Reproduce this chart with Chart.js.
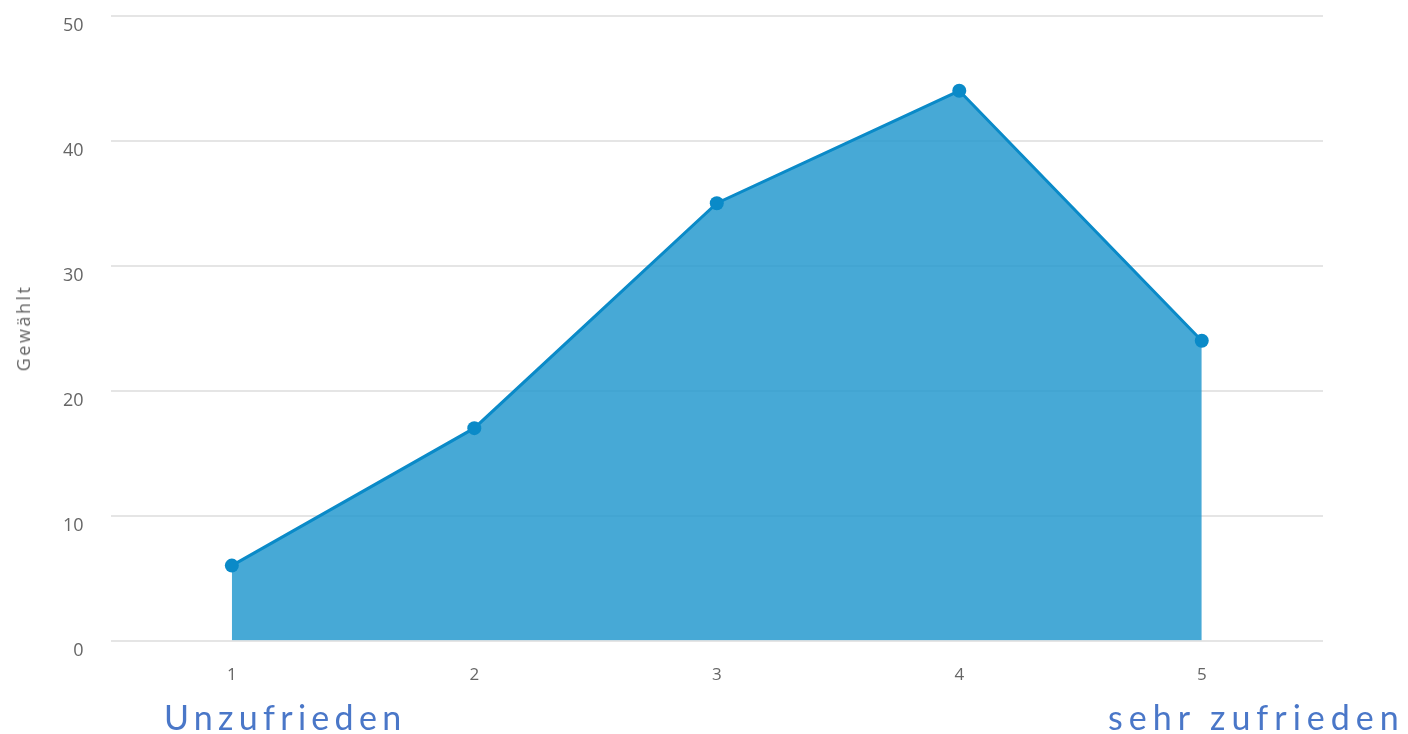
<!DOCTYPE html>
<html>
<head>
<meta charset="utf-8">
<script src="https://cdn.jsdelivr.net/npm/chart.js@4/dist/chart.umd.min.js"></script>
<style>
    body { margin: 0; background: #fff; overflow: hidden; }
    #wrap { position: relative; width: 1408px; height: 734px; overflow: hidden; }
    #box { position: absolute; left: 0; top: -22px; width: 1408px; height: 731px; }
    .scale { position: absolute; top: 696px; font-family: Lato, sans-serif; font-weight: 400;
             font-size: 34px; color: #4a77c8; letter-spacing: 5px; white-space: nowrap; }
    #ytitle { position: absolute; left: 23px; top: 328px; transform: translate(-50%, -50%) rotate(-90deg);
              font-family: 'Open Sans', sans-serif; font-size: 18px; color: #666; letter-spacing: 2.5px; white-space: nowrap; }
</style>
</head>
<body>
<div id="wrap">
    <div id="box"><canvas id="myChart"></canvas></div>
    <div id="ytitle">Gewählt</div>
    <div class="scale" style="left:164px; letter-spacing:5.3px">Unzufrieden</div>
    <div class="scale" style="left:1108px; letter-spacing:6px">sehr zufrieden</div>
</div>
<script>
    const labels = ['1', '2', '3', '4', '5'];
    const votes = [6, 17, 35, 44, 24];
    const yTicks = [0, 10, 20, 30, 40, 50];

    const data = {
        labels: labels,
        datasets: [{
            label: 'Gewählt',
            data: votes,
            fill: 'origin',
            backgroundColor: 'rgba(30,150,205,0.82)',
            borderColor: '#0a8ac8',
            borderWidth: 3,
            pointRadius: 7,
            pointBackgroundColor: '#0a8ac8',
            pointBorderWidth: 0,
            tension: 0
        }]
    };

    const config = {
        type: 'line',
        data: data,
        options: {
            responsive: true,
            maintainAspectRatio: false,
            animation: false,
            layout: { padding: { left: 36, right: 85, top: -14, bottom: 0 } },
            plugins: { legend: { display: false }, tooltip: { enabled: false } },
            scales: {
                x: {
                    offset: true,
                    grid: { display: false, drawTicks: false },
                    border: { display: false },
                    ticks: { color: '#666', font: { family: 'Open Sans', size: 17 }, padding: 24 }
                },
                y: {
                    min: 0,
                    max: 50,
                    afterBuildTicks: function(axis) { axis.ticks = yTicks.map(v => ({ value: v })); },
                    grid: { color: '#e5e5e5', lineWidth: 2, drawTicks: false },
                    border: { display: false },
                    ticks: { color: '#666', font: { family: 'Open Sans', size: 18 }, padding: 27, labelOffset: 10 }
                }
            }
        }
    };

    const myChart = new Chart(document.getElementById('myChart'), config);
</script>
</body>
</html>
